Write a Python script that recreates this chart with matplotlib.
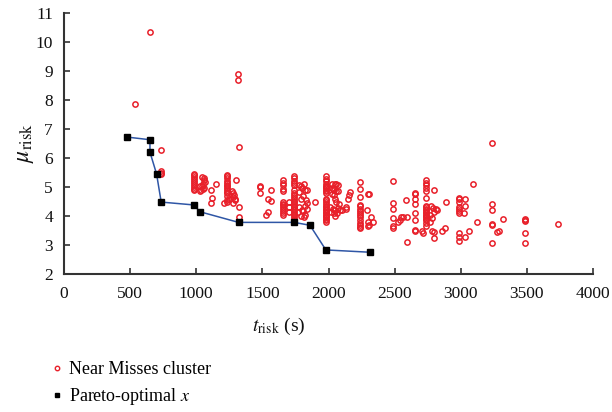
import matplotlib
matplotlib.use("Agg")
import matplotlib.pyplot as plt
from matplotlib.lines import Line2D

plt.rcParams['font.family'] = ['Liberation Serif', 'DejaVu Serif']
plt.rcParams['mathtext.fontset'] = 'stix'

# Pareto-optimal front
par_t = [480, 650, 650, 700, 735, 985, 1025, 1320, 1740, 1860, 1980, 2315]
par_mu = [6.72, 6.63, 6.20, 5.45, 4.48, 4.38, 4.15, 3.78, 3.78, 3.68, 2.83, 2.75]

# Near-miss cluster, grouped roughly by t_risk
nm_t = (
    [540, 650, 735, 735, 735, 730, 1315, 1318, 1320, 1300, 1320, 1320, 3240]
    + [985] * 10
    + [1040, 1055, 1060, 1065, 1050, 1030, 1045, 1060, 1035, 1025, 1050,
       1110, 1120, 1115, 1150]
    + [1235] * 14
    + [1210, 1250, 1270, 1280, 1285, 1275, 1290, 1280, 1295]
    + [1485] * 3
    + [1565, 1540, 1565, 1540, 1530]
    + [1655] * 13
    + [1705, 1705, 1700]
    + [1740] * 23
    + [1775, 1790, 1815, 1800, 1825, 1840, 1780, 1810, 1795, 1830,
       1835, 1820, 1840, 1800, 1810, 1780, 1790, 1825, 1770, 1815, 1900]
    + [1982] * 26
    + [2030, 2050, 2060, 2070, 2025, 2035, 2045, 2060, 2075, 2025, 2040, 2050,
       2060, 2080, 2015, 2035, 2050, 2020, 2040, 2050, 2070, 2090, 2100, 2065,
       2160, 2155, 2150, 2130, 2135]
    + [2235] * 15
    + [2300, 2305, 2290, 2320, 2335, 2295, 2310, 2300]
    + [2490] * 6
    + [2525, 2540, 2550, 2560, 2590, 2587, 2597]
    + [2655] * 8
    + [2705, 2715]
    + [2738] * 19
    + [2800, 2775, 2790, 2800, 2815, 2820, 2770, 2785, 2770, 2785, 2800, 2795,
       2860, 2880, 2885]
    + [2988] * 10
    + [3030, 3035, 3025, 3030, 3063, 3096, 3122]
    + [3237] * 5
    + [3275, 3290, 3318]
    + [3487] * 5
    + [3735]
)
nm_mu = (
    [7.85, 10.33, 6.28, 5.55, 5.50, 5.45, 8.90, 8.68, 6.37, 5.23, 4.30, 3.98, 6.52]
    + [5.45, 5.40, 5.33, 5.27, 5.20, 5.13, 5.07, 5.00, 4.94, 4.90]
    + [5.33, 5.32, 5.25, 5.18, 5.10, 5.05, 5.02, 4.98, 4.88, 4.85, 4.92,
       4.90, 4.63, 4.45, 5.12]
    + [5.43, 5.38, 5.30, 5.22, 5.15, 5.08, 5.02, 4.96, 4.90, 4.84, 4.78, 4.70,
       4.55, 4.48]
    + [4.45, 4.58, 4.85, 4.80, 4.72, 4.65, 4.55, 4.45, 4.60]
    + [5.05, 5.00, 4.78]
    + [4.88, 4.60, 4.52, 4.13, 4.05]
    + [5.23, 5.15, 5.07, 4.94, 4.85, 4.50, 4.43, 4.38, 4.32, 4.25, 4.18, 4.12, 4.05]
    + [4.50, 4.15, 4.30]
    + [5.37, 5.30, 5.22, 5.15, 5.08, 4.88, 4.80, 4.73, 4.65, 4.60, 4.53, 4.47,
       4.42, 4.36, 4.30, 4.25, 4.20, 4.14, 4.08, 4.02, 3.95, 3.88, 3.82]
    + [5.08, 5.05, 5.10, 4.95, 4.88, 4.88, 4.82, 4.70, 4.60, 4.55,
       4.45, 4.35, 4.25, 4.20, 4.18, 4.30, 4.00, 4.05, 4.15, 3.98, 4.50]
    + [5.38, 5.28, 5.22, 5.10, 5.05, 5.00, 4.95, 4.90, 4.85, 4.78, 4.60, 4.55,
       4.50, 4.42, 4.36, 4.30, 4.25, 4.20, 4.15, 4.10, 4.05, 4.00, 3.95, 3.90,
       3.85, 3.80]
    + [5.10, 5.12, 5.10, 5.08, 4.97, 4.94, 4.88, 4.85, 4.85, 4.75, 4.72, 4.60,
       4.50, 4.42, 4.30, 4.25, 4.20, 4.15, 4.10, 4.00, 4.28, 4.22, 4.20, 4.12,
       4.82, 4.72, 4.60, 4.30, 4.25]
    + [5.18, 4.93, 4.66, 4.38, 4.33, 4.25, 4.18, 4.10, 4.05, 3.95, 3.85, 3.75,
       3.68, 3.62, 3.58]
    + [4.76, 4.76, 4.20, 3.98, 3.81, 3.81, 3.70, 3.65]
    + [5.22, 4.44, 4.23, 3.93, 3.65, 3.58]
    + [3.80, 3.85, 3.95, 3.98, 3.96, 4.55, 3.09]
    + [4.80, 4.76, 4.58, 4.40, 4.11, 3.86, 3.52, 3.47]
    + [3.47, 3.42]
    + [5.24, 5.15, 5.07, 4.98, 4.87, 4.61, 4.35, 4.30, 4.25, 4.20, 4.15, 4.10,
       4.05, 4.00, 3.95, 3.90, 3.85, 3.75, 3.65]
    + [4.90, 4.35, 4.28, 4.15, 4.25, 4.20, 4.05, 3.92, 3.80, 3.50, 3.45, 3.25,
       3.50, 3.60, 4.50]
    + [4.62, 4.57, 4.48, 4.32, 4.25, 4.18, 4.10, 3.40, 3.28, 3.15]
    + [4.60, 4.33, 4.10, 3.26, 3.49, 5.10, 3.80]
    + [4.40, 4.19, 3.72, 3.70, 3.08]
    + [3.46, 3.47, 3.88]
    + [3.91, 3.87, 3.82, 3.40, 3.06]
    + [3.72]
)

x_ticks = [0, 500, 1000, 1500, 2000, 2500, 3000, 3500, 4000]
y_ticks = [2, 3, 4, 5, 6, 7, 8, 9, 10, 11]

RED = '#e8202a'
BLUE = '#2f56a6'
AXIS = '#333333'

fig = plt.figure(figsize=(6.12, 4.12), dpi=100)
ax = fig.add_axes([64 / 612, 1 - 274 / 412, 529 / 612, 261 / 412])

ax.plot(nm_t, nm_mu, linestyle='none', marker='o', markersize=3.8,
        markerfacecolor='none', markeredgecolor=RED, markeredgewidth=1.1,
        zorder=2)
ax.plot(par_t, par_mu, color=BLUE, linewidth=1.1, marker='s', markersize=3.8,
        markerfacecolor='black', markeredgecolor='black', zorder=3)

ax.set_xlim(0, 4000)
ax.set_ylim(2, 11)
ax.set_xticks(x_ticks)
ax.set_yticks(y_ticks)
ax.tick_params(direction='in', length=4, width=1.2, colors=AXIS,
               labelcolor='#111111', labelsize=12.5)
ax.tick_params(axis='x', pad=9)
ax.tick_params(axis='y', pad=8)
for side in ('top', 'right'):
    ax.spines[side].set_visible(False)
for side in ('left', 'bottom'):
    ax.spines[side].set_color(AXIS)
    ax.spines[side].set_linewidth(1.5)

fig.text(279 / 612, 1 - 326 / 412, r'$t_{\mathrm{risk}}$ (s)', ha='center',
         va='center', fontsize=14, color='#111111')
fig.text(25 / 612, 1 - 143 / 412, r'$\mu_{\mathrm{risk}}$', ha='center',
         va='center', rotation=90, fontsize=17, color='#111111')

handles = [
    Line2D([], [], linestyle='none', marker='o', markersize=3.2,
           markerfacecolor='none', markeredgecolor=RED, markeredgewidth=1.0),
    Line2D([], [], linestyle='none', marker='s', markersize=3.4,
           markerfacecolor='black', markeredgecolor='black'),
]
fig.legend(handles, ['Near Misses cluster', r'Pareto-optimal $x$'],
           loc='upper left', bbox_to_anchor=(52 / 612, 1 - 361 / 412),
           frameon=False, fontsize=13, handlelength=0.6, handletextpad=0.35,
           labelspacing=0.45, borderaxespad=0, borderpad=0)

fig.savefig('out.png', dpi=100)
